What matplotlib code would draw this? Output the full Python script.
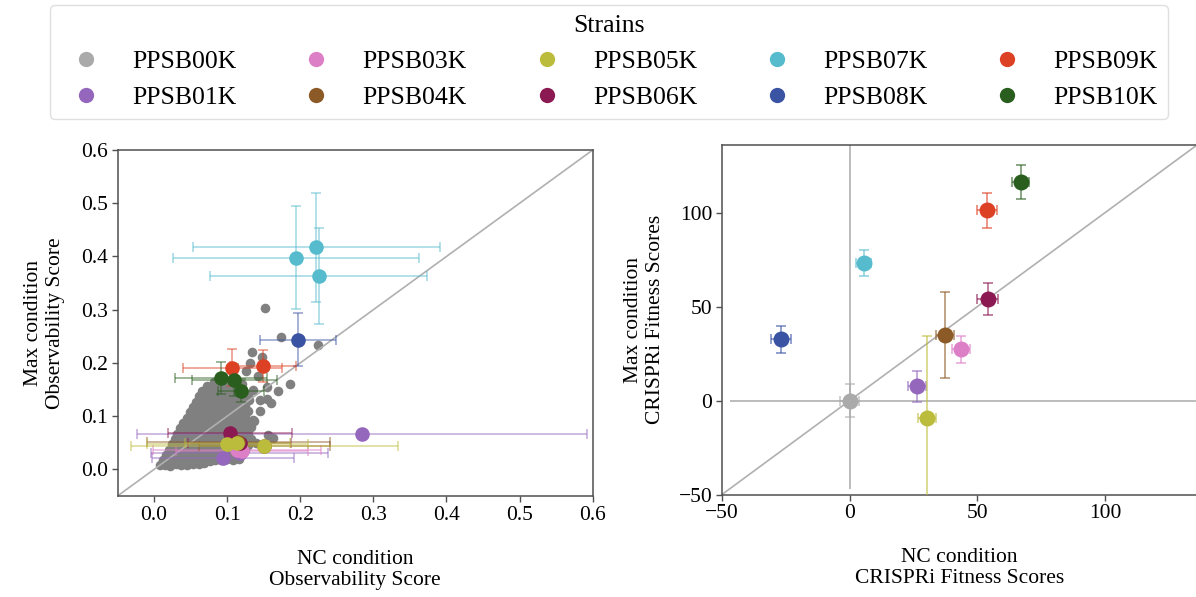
import matplotlib
matplotlib.use("Agg")
import matplotlib.pyplot as plt
from matplotlib.lines import Line2D

plt.rcParams['font.family'] = ['Liberation Serif', 'DejaVu Serif']

W, H = 1196, 597

strains = ["PPSB00K", "PPSB01K", "PPSB03K", "PPSB04K", "PPSB05K",
           "PPSB06K", "PPSB07K", "PPSB08K", "PPSB09K", "PPSB10K"]
strain_colors = ["#aaaaaa", "#9467bd", "#dc7fc6", "#8c5a26", "#bcbc3c",
                 "#8b1a52", "#56bccd", "#3a53a3", "#dc4124", "#2a5e1e"]

# Background guides: NC vs max-condition observability scores
bg_x = [
    0.008, 0.015, 0.022, 0.030, 0.037, 0.045, 0.053, 0.061, 0.069,
    0.012, 0.020, 0.028, 0.036, 0.044, 0.052, 0.060, 0.068, 0.076, 0.084, 0.092, 0.100, 0.108, 0.116,
    0.016, 0.024, 0.032, 0.040, 0.048, 0.056, 0.064, 0.072, 0.080, 0.088, 0.096, 0.104, 0.112, 0.120,
    0.020, 0.028, 0.036, 0.044, 0.052, 0.060, 0.068, 0.076, 0.084, 0.092, 0.100, 0.108, 0.116, 0.125,
    0.024, 0.032, 0.040, 0.048, 0.056, 0.064, 0.072, 0.080, 0.088, 0.096, 0.104, 0.112, 0.120, 0.128,
    0.028, 0.036, 0.044, 0.052, 0.060, 0.068, 0.076, 0.084, 0.092, 0.100, 0.108, 0.116, 0.124, 0.132,
    0.032, 0.040, 0.048, 0.056, 0.064, 0.072, 0.080, 0.088, 0.096, 0.104, 0.112, 0.120, 0.128,
    0.036, 0.044, 0.052, 0.060, 0.068, 0.076, 0.084, 0.092, 0.100, 0.108, 0.116, 0.124, 0.132,
    0.040, 0.048, 0.056, 0.064, 0.072, 0.080, 0.088, 0.096, 0.104, 0.112, 0.120, 0.128,
    0.045, 0.053, 0.061, 0.069, 0.077, 0.085, 0.093, 0.101, 0.109, 0.117, 0.125,
    0.049, 0.057, 0.065, 0.073, 0.081, 0.089, 0.097, 0.105, 0.113, 0.121, 0.129,
    0.053, 0.061, 0.069, 0.077, 0.085, 0.093, 0.101, 0.109, 0.117, 0.125,
    0.057, 0.065, 0.073, 0.081, 0.089, 0.097, 0.105, 0.113, 0.121, 0.130,
    0.061, 0.069, 0.077, 0.085, 0.093, 0.101, 0.109, 0.117, 0.124,
    0.066, 0.074, 0.082, 0.090, 0.098, 0.106, 0.114, 0.121, 0.128,
    0.072, 0.080, 0.088, 0.096, 0.104, 0.112,
    0.082, 0.092, 0.101,
    0.152, 0.174, 0.224, 0.186, 0.170, 0.154, 0.136, 0.156, 0.163,
    0.134, 0.147, 0.131, 0.142, 0.126, 0.155, 0.160, 0.145, 0.135,
    0.120, 0.145, 0.140, 0.137,
]
bg_y = [
    0.008, 0.009, 0.007, 0.010, 0.008, 0.009, 0.011, 0.010, 0.012,
    0.017, 0.016, 0.018, 0.017, 0.016, 0.018, 0.015, 0.017, 0.016, 0.018, 0.017, 0.019, 0.018, 0.020,
    0.027, 0.026, 0.028, 0.027, 0.026, 0.028, 0.027, 0.025, 0.027, 0.026, 0.028, 0.027, 0.026, 0.029,
    0.037, 0.036, 0.038, 0.037, 0.036, 0.038, 0.037, 0.036, 0.038, 0.037, 0.036, 0.038, 0.037, 0.036,
    0.047, 0.048, 0.046, 0.047, 0.048, 0.046, 0.047, 0.048, 0.046, 0.047, 0.048, 0.046, 0.047, 0.045,
    0.057, 0.058, 0.056, 0.057, 0.058, 0.056, 0.057, 0.058, 0.056, 0.057, 0.058, 0.056, 0.057, 0.058,
    0.067, 0.068, 0.066, 0.067, 0.068, 0.066, 0.067, 0.068, 0.066, 0.067, 0.068, 0.066, 0.067,
    0.077, 0.078, 0.076, 0.077, 0.078, 0.076, 0.077, 0.078, 0.076, 0.077, 0.078, 0.076, 0.079,
    0.087, 0.088, 0.086, 0.087, 0.088, 0.086, 0.087, 0.088, 0.086, 0.087, 0.088, 0.089,
    0.097, 0.098, 0.096, 0.097, 0.098, 0.096, 0.097, 0.098, 0.096, 0.097, 0.099,
    0.107, 0.108, 0.106, 0.107, 0.108, 0.106, 0.107, 0.108, 0.106, 0.107, 0.109,
    0.117, 0.118, 0.116, 0.117, 0.118, 0.116, 0.117, 0.118, 0.116, 0.119,
    0.127, 0.128, 0.126, 0.127, 0.128, 0.126, 0.127, 0.128, 0.126, 0.131,
    0.137, 0.138, 0.136, 0.137, 0.138, 0.136, 0.137, 0.138, 0.135,
    0.147, 0.148, 0.146, 0.147, 0.148, 0.146, 0.147, 0.144, 0.140,
    0.156, 0.158, 0.157, 0.158, 0.156, 0.154,
    0.164, 0.166, 0.163,
    0.303, 0.249, 0.233, 0.161, 0.147, 0.133, 0.092, 0.064, 0.059,
    0.220, 0.212, 0.200, 0.175, 0.185, 0.155, 0.125, 0.130, 0.150,
    0.160, 0.110, 0.050, 0.091,
]

# Strain observability scores (NC condition vs max condition)
obs_strain = ["PPSB01K", "PPSB01K", "PPSB01K", "PPSB03K", "PPSB03K",
              "PPSB04K", "PPSB04K", "PPSB06K", "PPSB06K",
              "PPSB05K", "PPSB05K", "PPSB05K",
              "PPSB07K", "PPSB07K", "PPSB07K", "PPSB08K",
              "PPSB09K", "PPSB09K", "PPSB10K", "PPSB10K", "PPSB10K"]
obs_x = [0.284, 0.094, 0.117, 0.113, 0.120,
         0.151, 0.115, 0.104, 0.117,
         0.151, 0.100, 0.114,
         0.194, 0.222, 0.225, 0.197,
         0.107, 0.149, 0.091, 0.110, 0.119]
obs_y = [0.067, 0.022, 0.031, 0.037, 0.034,
         0.044, 0.052, 0.068, 0.049,
         0.043, 0.048, 0.050,
         0.398, 0.417, 0.363, 0.244,
         0.191, 0.195, 0.172, 0.168, 0.148]
obs_xerr = [0.308, 0.097, 0.121, 0.115, 0.090,
            0.089, 0.125, 0.085, 0.070,
            0.182, 0.110, 0.072,
            0.168, 0.169, 0.149, 0.052,
            0.068, 0.045, 0.063, 0.058, 0.031]
obs_yerr = [0.005, 0.005, 0.005, 0.005, 0.005,
            0.005, 0.005, 0.006, 0.005,
            0.005, 0.005, 0.005,
            0.097, 0.103, 0.090, 0.050,
            0.035, 0.030, 0.030, 0.030, 0.022]

# CRISPRi fitness scores, one per strain
fit_x = [0.0, 26.5, 43.7, 37.2, 30.4, 54.0, 5.5, -26.9, 53.7, 66.9]
fit_y = [0.0, 7.5, 27.2, 34.8, -9.4, 54.2, 73.4, 32.5, 101.2, 116.3]
fit_xerr = [3.8, 3.5, 3.5, 3.5, 3.5, 4.2, 3.0, 4.0, 4.0, 3.5]
fit_yerr = [8.6, 8.4, 7.1, 22.9, 43.5, 8.6, 6.9, 7.4, 9.2, 8.9]

color_of = dict(zip(strains, strain_colors))

fig = plt.figure(figsize=(W / 100, H / 100), dpi=100)


def px_axes(x0, x1, top, bottom):
    return fig.add_axes([x0 / W, 1 - bottom / H, (x1 - x0) / W, (bottom - top) / H])


ax1 = px_axes(117.5, 592.7, 150, 496)
ax2 = px_axes(722, 1197, 145, 494.5)

spine_col = "#505050"
for ax in (ax1, ax2):
    for s in ax.spines.values():
        s.set_color(spine_col)
        s.set_linewidth(1.1)
    ax.tick_params(labelsize=15.5, color=spine_col, length=4, width=1.0, pad=3)

# Left panel: observability
ax1.set_xlim(-0.05, 0.6)
ax1.set_ylim(-0.05, 0.6)
ax1.set_xticks([0.0, 0.1, 0.2, 0.3, 0.4, 0.5, 0.6])
ax1.set_yticks([0.0, 0.1, 0.2, 0.3, 0.4, 0.5, 0.6])
ax1.scatter(bg_x, bg_y, s=48, color="#808080", linewidths=0, zorder=1)
ax1.plot([0, 1], [0, 1], transform=ax1.transAxes, color="#b0b0b0", lw=1.2, zorder=2)

draw_order = ["PPSB01K", "PPSB03K", "PPSB06K", "PPSB04K", "PPSB05K",
              "PPSB07K", "PPSB08K", "PPSB09K", "PPSB10K"]
for k, name in enumerate(draw_order):
    idx = [i for i, s in enumerate(obs_strain) if s == name]
    xs = [obs_x[i] for i in idx]
    ys = [obs_y[i] for i in idx]
    xe = [obs_xerr[i] for i in idx]
    ye = [obs_yerr[i] for i in idx]
    c = color_of[name]
    ax1.errorbar(xs, ys, xerr=xe, yerr=ye, fmt='none', ecolor=c, alpha=0.45,
                 elinewidth=1.4, capsize=3.6, capthick=1.4, zorder=3)
    ax1.plot(xs, ys, 'o', color=c, ms=10.5, mew=0, zorder=4 + k * 0.01)

ax1.set_xlabel("NC condition\nObservability Score", fontsize=15.5, va='top')
ax1.xaxis.set_label_coords(0.5, -0.155)
ax1.set_ylabel("Max condition\nObservability Score", fontsize=15.5)
ax1.yaxis.set_label_coords(-0.11, 0.5)

# Right panel: CRISPRi fitness
ax2.set_xlim(-50, 136)
ax2.set_ylim(-50, 136)
ax2.set_xticks([-50, 0, 50, 100])
ax2.set_yticks([-50, 0, 50, 100])
ax2.plot([0, 1], [0, 1], transform=ax2.transAxes, color="#b0b0b0", lw=1.2, zorder=1)
ax2.hlines(0, -47, 200, color="#b0b0b0", lw=1.2, zorder=1)
ax2.vlines(0, -47, 200, color="#b0b0b0", lw=1.2, zorder=1)
for i, name in enumerate(strains):
    c = strain_colors[i]
    ax2.errorbar(fit_x[i], fit_y[i], xerr=fit_xerr[i], yerr=fit_yerr[i], fmt='none',
                 ecolor=c, alpha=0.55, elinewidth=1.4, capsize=3.6, capthick=1.4, zorder=3)
    ax2.plot(fit_x[i], fit_y[i], 'o', color=c, ms=11.5, mew=0, zorder=4)

ax2.set_xlabel("NC condition\nCRISPRi Fitness Scores", fontsize=15.5, va='top')
ax2.xaxis.set_label_coords(0.5, -0.152)
ax2.set_ylabel("Max condition\nCRISPRi Fitness Scores", fontsize=15.5)
ax2.yaxis.set_label_coords(-0.12, 0.5)

# Legend
handles = [Line2D([], [], ls='none', marker='o', ms=11, mew=0, color=c) for c in strain_colors]
leg = fig.legend(handles, strains, loc='upper center', ncol=5, mode='expand',
                 bbox_to_anchor=(50 / W, 1 - 122 / H, 1118 / W, 117 / H),
                 title="Strains", fontsize=18.5, title_fontsize=18.5,
                 frameon=True, fancybox=True, borderaxespad=0)
leg.get_frame().set_edgecolor("#d8d8d8")
leg.get_frame().set_linewidth(1.0)

fig.savefig("out.png", dpi=100)
